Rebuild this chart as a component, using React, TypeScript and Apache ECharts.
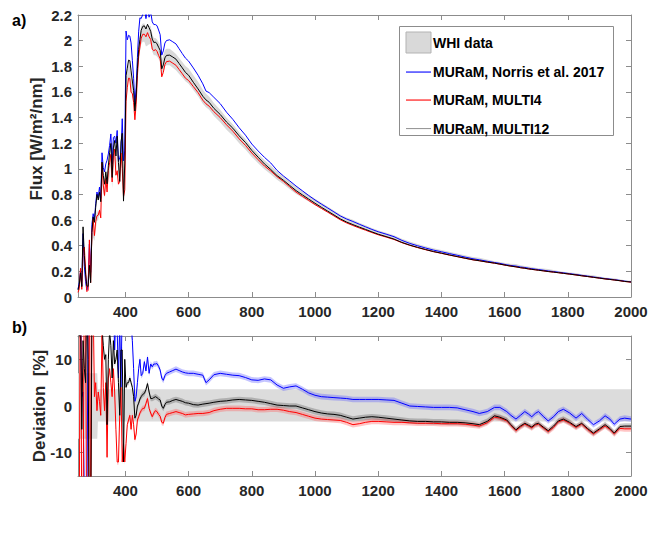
import React, { useEffect, useRef } from "react";
import * as echarts from "echarts";

// ---------------- data ----------------
const wavelength = [
  250, 254, 258, 262, 266, 270, 274, 278, 282, 286, 290, 294, 298, 302, 306, 310, 314, 318, 322, 326,
  330, 334, 338, 342, 346, 350, 354, 358, 362, 366, 370, 374, 378, 382, 386, 390, 394, 398,
  402, 406, 410, 414, 418, 422, 426, 430, 434, 438, 442, 446, 450, 455, 460, 465, 470, 475, 480, 485,
  490, 495, 500, 505, 510, 515, 520, 525, 530, 540, 550, 560, 570, 580, 590, 600, 615, 630, 645, 655,
  665, 680, 700, 720, 740, 760, 780, 800, 820, 840, 860, 880, 900, 920, 940, 960, 980, 1000,
  1020, 1040, 1060, 1080, 1100, 1120, 1140, 1160, 1180, 1200, 1225, 1250, 1275, 1300, 1325, 1350, 1375, 1400,
  1425, 1450, 1475, 1500, 1520, 1545, 1568, 1585, 1607, 1620, 1636, 1650, 1664, 1675, 1686, 1697, 1707, 1722,
  1738, 1755, 1770, 1786, 1806, 1826, 1844, 1862, 1881, 1900, 1918, 1933, 1947, 1965, 1980, 2000,
];

// WHI reference spectrum [W/m^2/nm]
const whiFlux = [
  0.045, 0.085, 0.16, 0.085, 0.48, 0.3, 0.17, 0.07, 0.075, 0.33, 0.16, 0.42, 0.5, 0.47, 0.56, 0.64, 0.62, 0.67, 0.63, 0.9,
  0.84, 0.8, 0.88, 0.92, 0.93, 0.97, 1.06, 0.88, 1.02, 1.12, 1.0, 1.12, 1.0, 0.92, 1.08, 1.14, 0.85, 0.95,
  1.66, 1.7, 1.76, 1.74, 1.68, 1.62, 1.58, 1.49, 1.6, 1.78, 1.92, 1.98, 2.04, 2.06, 2.06, 2.02, 2.03, 2.04, 2.04, 1.98,
  1.95, 1.95, 1.94, 1.92, 1.9, 1.78, 1.82, 1.86, 1.87, 1.87, 1.85, 1.83, 1.8, 1.77, 1.74, 1.72, 1.67, 1.62, 1.56, 1.53,
  1.51, 1.46, 1.41, 1.35, 1.3, 1.24, 1.19, 1.13, 1.08, 1.03, 0.99, 0.945, 0.91, 0.87, 0.83, 0.8, 0.77, 0.74,
  0.711, 0.682, 0.652, 0.622, 0.599, 0.581, 0.56, 0.54, 0.52, 0.502, 0.484, 0.465, 0.439, 0.418, 0.4, 0.383, 0.367, 0.354,
  0.34, 0.327, 0.314, 0.302, 0.295, 0.282, 0.27, 0.263, 0.254, 0.251, 0.248, 0.239, 0.233, 0.229, 0.226, 0.221, 0.217, 0.214,
  0.21, 0.203, 0.196, 0.19, 0.185, 0.18, 0.172, 0.168, 0.163, 0.155, 0.147, 0.144, 0.141, 0.133, 0.127, 0.122,
];

// deviation from WHI [%]
const devNorris = [
  40, 30, 25, 2, 3, -20, -30, -25, 20, 25, 20, 35, 30, 28, 30, 28, 25, 28, 22, 25,
  20, 22, 18, 16, 20, 22, 20, 18, 22, 12, 20, 16, 6, 18, 4, 22, 25, 20,
  25, 18, 16, 17, 18, 14, 8, 1, 2, 5, 8, 10, 6.5, 7, 9.5, 7.5, 10.5, 7, 9, 8.4,
  9, 9, 9.1, 8.5, 7.7, 6, 5.5, 6.5, 7, 7.3, 7.6, 7.9, 7.6, 7.3, 7.1, 7.0, 7.0, 6.8, 6.6, 5.0,
  5.6, 6.7, 7.0, 6.8, 6.6, 6.5, 6.1, 5.6, 5.5, 5.8, 5.6, 4.5, 3.8, 4.1, 4.3, 3.6, 2.8, 2.3,
  2.0, 1.9, 1.8, 1.7, 1.6, 1.4, 1.4, 1.4, 1.4, 1.4, 1.3, 1.2, 0.6, 0.0, -0.1, -0.2, -0.3, -0.3,
  -0.3, -0.4, -0.8, -1.2, -1.6, -1.2, -0.3, -0.3, -1.2, -2.0, -2.8, -2.0, -1.2, -1.7, -2.3, -1.6, -1.2, -2.2,
  -3.2, -2.3, -1.2, -0.7, -1.5, -2.6, -1.6, -2.8, -4.0, -3.2, -2.1, -2.8, -3.9, -2.8, -2.6, -2.8,
];

const devMulti4 = [
  -20, -25, 40, -30, -25, 30, 25, -40, -30, 35, -30, 20, 22, 2, 5, -1, 3, 1, -2, 16,
  4, -1, 5, -11, 6, 8, 5, 2, 8, 3, -5, -12, -12, -2, 4, -12, -8, -12,
  -8, -4, -3, -2, -5, -2, -4, -7.2, -6, -3, -2.3, -1.5, -1, -0.5, -0.5, 0.5, 1.6, -0.5, -1.5, -2.3,
  -1.5, -1, -1.2, -1.8, -2.2, -3.5, -3.7, -2.5, -1.8, -1.6, -1.4, -1.2, -1.4, -1.6, -1.9, -1.8, -1.7, -1.6, -1.6, -1.5,
  -1.4, -1.0, -0.7, -0.5, -0.5, -0.5, -0.6, -0.6, -0.8, -0.8, -0.7, -0.7, -0.9, -1.2, -1.4, -1.8, -2.2, -2.6,
  -2.8, -2.9, -3.0, -3.1, -3.5, -4.0, -3.8, -3.5, -3.3, -3.3, -3.4, -3.5, -3.5, -3.6, -3.7, -3.7, -3.7, -3.8,
  -3.8, -3.8, -3.9, -4.1, -4.3, -3.6, -2.4, -2.6, -3.2, -4.2, -5.3, -4.5, -3.9, -4.3, -4.7, -4.1, -3.9, -4.7,
  -5.5, -4.6, -3.4, -3.0, -3.7, -4.6, -3.9, -5.0, -6.0, -5.1, -4.3, -5.0, -6.0, -4.8, -4.9, -4.9,
];

const devMulti12 = [
  20, 15, 18, -5, 14, 8, 5, 25, 10, -25, -30, 20, 25, 24, 25, 25, 22, 22, 18, 17,
  13, 10, 11, -4, 10, 16, 13, 6, 14, 9, 10, 12, 5, -2, 12, 12, -12, 10,
  4, 5, 5, 6, 5, 4, 2, -2.6, -2, 0, 0.6, 1.5, 2, 2.5, 2.7, 3.5, 4.8, 3, 1.6, 1.6,
  1.8, 2, 1.8, 1.5, 1.3, 0, -0.5, 0.3, 0.8, 0.9, 1.2, 1.4, 1.2, 1.0, 0.7, 0.6, 0.3, 0.2, 0.4, 0.5,
  0.6, 0.8, 1.0, 1.1, 1.3, 1.4, 1.3, 1.2, 1.0, 0.8, 0.5, 0.2, 0.1, 0.0, 0.0, -0.4, -0.8, -1.2,
  -1.5, -1.7, -1.8, -2.0, -2.4, -2.8, -2.6, -2.4, -2.3, -2.4, -2.6, -2.8, -3.0, -3.2, -3.3, -3.3, -3.4, -3.4,
  -3.5, -3.5, -3.6, -3.8, -4.0, -3.3, -2.1, -2.4, -3.0, -4.0, -5.1, -4.3, -3.7, -4.1, -4.5, -3.9, -3.7, -4.5,
  -5.3, -4.3, -3.2, -2.8, -3.5, -4.4, -3.7, -4.8, -5.8, -4.9, -4.0, -4.8, -5.8, -4.4, -4.3, -4.3,
];

// WHI uncertainty band [%]
const whiBandEdges = [250, 311, 313, 2000];
const whiBandLow = [-7, -7, -3.3, -3.3];
const whiBandHigh = [7, 7, 3.6, 3.6];
const modelSpread = 0.6; // [%]

const xTicks = [400, 600, 800, 1000, 1200, 1400, 1600, 1800, 2000];
const devTicks = [-10, 0, 10];

const seriesNames = ["WHI data", "MURaM, Norris et al. 2017", "MURaM, MULTI4", "MURaM, MULTI12"];

// ---------------- style ----------------
const FONT = "'Liberation Sans', Arial, Helvetica, sans-serif";
const AXIS_GRAY = "#8c8c8c";
const TEXT = "#262626";
const BLUE = "#0000ff";
const RED = "#ff0000";
const BLACK = "#000000";

function bandAt(w: number, arr: number[]) {
  let k = 0;
  for (let i = 0; i < whiBandEdges.length; i++) if (whiBandEdges[i] <= w) k = i;
  return arr[k];
}

function lineSeries(name: string, grid: number, data: number[][], color: string) {
  return {
    type: "line",
    name,
    xAxisIndex: grid * 2,
    yAxisIndex: grid * 2,
    data,
    symbol: "none",
    silent: true,
    clip: true,
    lineStyle: { color, width: 1 },
    z: 5,
  };
}

// filled band between two curves, drawn through the axes' scales
function bandSeries(
  grid: number,
  xs: number[],
  lo: number[],
  hi: number[],
  color: string,
  yMin: number,
  yMax: number,
  z = 2
) {
  const clamp = (v: number) => Math.max(yMin, Math.min(yMax, v));
  return {
    type: "custom",
    xAxisIndex: grid * 2,
    yAxisIndex: grid * 2,
    silent: true,
    z,
    data: [[xs[0], lo[0]]],
    renderItem: (_params: any, api: any) => {
      const pts: number[][] = [];
      for (let i = 0; i < xs.length; i++) pts.push(api.coord([xs[i], clamp(hi[i])]));
      for (let i = xs.length - 1; i >= 0; i--) pts.push(api.coord([xs[i], clamp(lo[i])]));
      return { type: "polygon", shape: { points: pts }, style: { fill: color, stroke: "none" } };
    },
  };
}

function xAxis(grid: number, position: string, showLabels: boolean) {
  return {
    type: "value",
    gridIndex: grid,
    position,
    min: 250,
    max: 2000,
    axisLine: { show: true, onZero: false, lineStyle: { color: AXIS_GRAY, width: 1 } },
    axisTick: { show: true, inside: true, length: 5, customValues: xTicks, lineStyle: { color: AXIS_GRAY } },
    axisLabel: {
      show: showLabels,
      customValues: xTicks,
      margin: 7,
      fontFamily: FONT,
      fontWeight: "bold",
      fontSize: 15,
      color: TEXT,
      formatter: (v: number) => String(v),
    },
    splitLine: { show: false },
  };
}

function yAxisFlux(position: string, showLabels: boolean) {
  return {
    type: "value",
    gridIndex: 0,
    position,
    min: 0,
    max: 2.2,
    interval: 0.2,
    axisLine: { show: true, onZero: false, lineStyle: { color: AXIS_GRAY, width: 1 } },
    axisTick: { show: true, inside: true, length: 5, lineStyle: { color: AXIS_GRAY } },
    axisLabel: {
      show: showLabels,
      margin: 6,
      fontFamily: FONT,
      fontWeight: "bold",
      fontSize: 15,
      color: TEXT,
      formatter: (v: number) => String(Math.round(v * 10) / 10),
    },
    splitLine: { show: false },
  };
}

function yAxisDev(position: string, showLabels: boolean) {
  return {
    type: "value",
    gridIndex: 1,
    position,
    min: -15,
    max: 15,
    axisLine: { show: true, onZero: false, lineStyle: { color: AXIS_GRAY, width: 1 } },
    axisTick: { show: true, inside: true, length: 5, customValues: devTicks, lineStyle: { color: AXIS_GRAY } },
    axisLabel: {
      show: showLabels,
      customValues: devTicks,
      margin: 6,
      fontFamily: FONT,
      fontWeight: "bold",
      fontSize: 15,
      color: TEXT,
      formatter: (v: number) => String(v),
    },
    splitLine: { show: false },
  };
}

export default function App() {
  const ref = useRef<HTMLDivElement>(null);

  useEffect(() => {
    if (!ref.current) return;
    const chart = echarts.init(ref.current, undefined, { renderer: "svg" });

    const modelFlux = (dev: number[]) => wavelength.map((w, i) => [w, whiFlux[i] * (1 + dev[i] / 100)]);
    const devData = (dev: number[]) => wavelength.map((w, i) => [w, dev[i]]);

    const whiTopLo = wavelength.map((w, i) => whiFlux[i] * (1 + bandAt(w, whiBandLow) / 100));
    const whiTopHi = wavelength.map((w, i) => whiFlux[i] * (1 + bandAt(w, whiBandHigh) / 100));

    const spreadLo = (dev: number[]) => dev.map((d) => d - modelSpread);
    const spreadHi = (dev: number[]) => dev.map((d) => d + modelSpread);

    const legendX = 406;
    const legendText = (id: string, text: string, y: number) => ({
      type: "text",
      id,
      x: 433,
      y,
      z: 101,
      style: { text, fill: "#000", font: `bold 14px ${FONT}`, verticalAlign: "middle", align: "left" },
    });
    const legendSwatch = (id: string, y: number, color: string) => ({
      type: "rect",
      id,
      z: 101,
      shape: { x: legendX, y: y - 0.5, width: 25, height: 1.1 },
      style: { fill: color, stroke: "none" },
    });

    const option = {
      animation: false,
      backgroundColor: "#ffffff",
      grid: [
        { left: 78, top: 15, width: 553, height: 282, outerBoundsMode: "none", containLabel: false },
        { left: 78, top: 336, width: 553, height: 140, outerBoundsMode: "none", containLabel: false },
      ],
      xAxis: [xAxis(0, "bottom", true), xAxis(0, "top", false), xAxis(1, "bottom", true), xAxis(1, "top", false)],
      yAxis: [yAxisFlux("left", true), yAxisFlux("right", false), yAxisDev("left", true), yAxisDev("right", false)],
      series: [
        // top panel
        bandSeries(0, wavelength, whiTopLo, whiTopHi, "#d9d9d9", 0, 2.2),
        lineSeries(seriesNames[1], 0, modelFlux(devNorris), BLUE),
        lineSeries(seriesNames[2], 0, modelFlux(devMulti4), RED),
        lineSeries(seriesNames[3], 0, modelFlux(devMulti12), BLACK),
        // bottom panel
        bandSeries(1, whiBandEdges, whiBandLow, whiBandHigh, "#dcdcdc", -15, 15, 1),
        bandSeries(1, wavelength, spreadLo(devNorris), spreadHi(devNorris), "rgba(90,90,255,0.35)", -15, 15),
        bandSeries(1, wavelength, spreadLo(devMulti4), spreadHi(devMulti4), "rgba(255,90,90,0.35)", -15, 15),
        bandSeries(1, wavelength, spreadLo(devMulti12), spreadHi(devMulti12), "rgba(0,0,0,0.2)", -15, 15),
        lineSeries("dev " + seriesNames[1], 1, devData(devNorris), BLUE),
        lineSeries("dev " + seriesNames[2], 1, devData(devMulti4), RED),
        lineSeries("dev " + seriesNames[3], 1, devData(devMulti12), BLACK),
      ],
      graphic: [
        {
          type: "text",
          id: "labelA",
          x: 12,
          y: 20,
          z: 100,
          style: { text: "a)", fill: "#000", font: `bold 16px ${FONT}`, verticalAlign: "middle" },
        },
        {
          type: "text",
          id: "labelB",
          x: 12,
          y: 327,
          z: 100,
          style: { text: "b)", fill: "#000", font: `bold 16px ${FONT}`, verticalAlign: "middle" },
        },
        {
          type: "text",
          id: "titleFlux",
          x: 36,
          y: 139,
          z: 100,
          rotation: Math.PI / 2,
          style: {
            text: "Flux [W/m²/nm]",
            fill: TEXT,
            font: `bold 17px ${FONT}`,
            align: "center",
            verticalAlign: "middle",
          },
        },
        {
          type: "text",
          id: "titleDev",
          x: 39,
          y: 406,
          z: 100,
          rotation: Math.PI / 2,
          style: {
            text: "Deviation  [%]",
            fill: TEXT,
            font: `bold 17px ${FONT}`,
            align: "center",
            verticalAlign: "middle",
          },
        },
        {
          type: "rect",
          id: "legendBox",
          z: 100,
          shape: { x: 399.5, y: 26.5, width: 214, height: 109 },
          style: { fill: "#ffffff", stroke: AXIS_GRAY, lineWidth: 1 },
        },
        {
          type: "rect",
          id: "legendWhi",
          z: 101,
          shape: { x: legendX, y: 32, width: 25, height: 21 },
          style: { fill: "#d9d9d9", stroke: "#b3b3b3", lineWidth: 1 },
        },
        legendText("lt0", seriesNames[0], 43),
        legendSwatch("ls1", 72, BLUE),
        legendText("lt1", seriesNames[1], 72),
        legendSwatch("ls2", 100, RED),
        legendText("lt2", seriesNames[2], 100),
        legendSwatch("ls3", 128.5, "#999999"),
        legendText("lt3", seriesNames[3], 128.5),
      ],
    };

    chart.setOption(option as any);
    return () => chart.dispose();
  }, []);

  return (
    <div
      ref={ref}
      style={{ position: "fixed", left: 0, top: 0, width: 654, height: 535, background: "#fff" }}
    />
  );
}
